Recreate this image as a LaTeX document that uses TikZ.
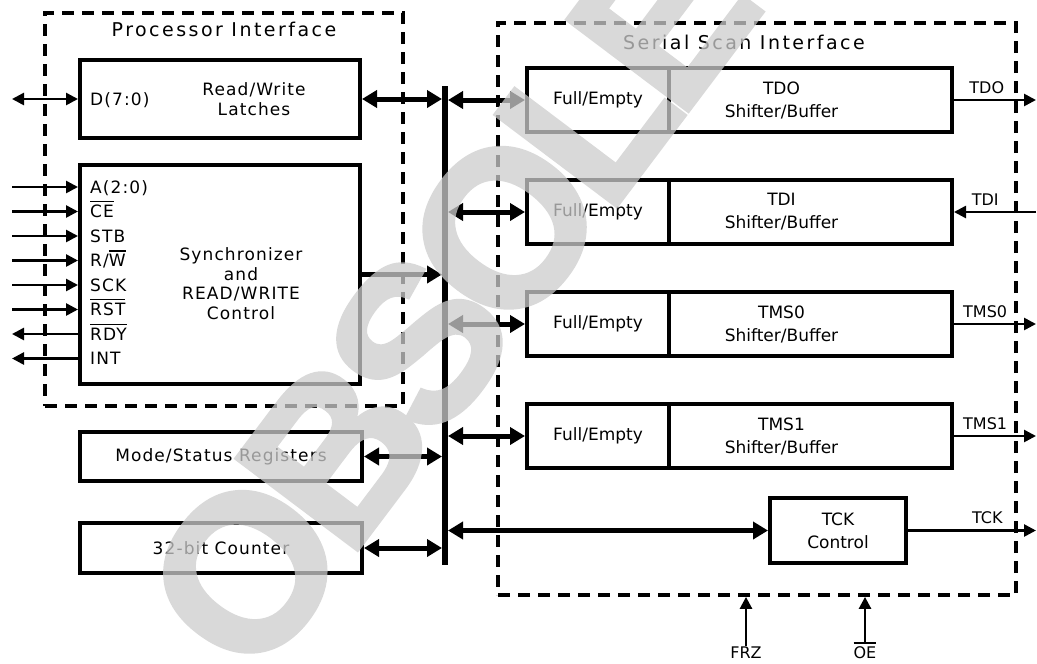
\documentclass[tikz,border=0pt]{standalone}
\usepackage{fontspec}
\setmainfont{DejaVu Sans}
\newfontfamily\wideface[LetterSpace=6.5]{DejaVu Sans}
\newfontfamily\headface[LetterSpace=13]{DejaVu Sans}
\newfontfamily\stampface[LetterSpace=-7, FakeBold=2]{Liberation Sans}
\usepackage{tikz}
\usetikzlibrary{arrows.meta, positioning, shapes}

\newcommand{\blockfont}{\wideface\fontsize{17}{19.5}\selectfont}
\newcommand{\headfont}{\headface\fontsize{19}{23}\selectfont}
\newcommand{\cellfont}{\fontsize{17}{23}\selectfont}
\newcommand{\pinfont}{\fontsize{16}{19}\selectfont}
\newcommand{\ovl}[1]{\vbox{\hrule height 1.6pt\kern 2.5pt\hbox{#1}}}

\begin{document}
\begin{tikzpicture}[x=1pt, y=-1pt,
  block/.style={draw, line width=4pt, inner sep=0pt, align=center},
  region/.style={draw, line width=3.8pt, dash pattern=on 12pt off 8pt, inner sep=0pt},
  head/.style={font=\headfont, inner sep=0pt},
  blocklbl/.style={font=\blockfont, align=center, inner sep=0pt},
  celllbl/.style={font=\cellfont, align=center, inner sep=0pt},
  pinlbl/.style={font=\blockfont, anchor=west, inner sep=0pt, text height=12pt, text depth=0pt},
  sigtxt/.style={font=\pinfont, inner sep=0pt},
  wire/.style={line width=2.6pt, >={Triangle[length=12pt,width=12pt]}},
  buslink/.style={line width=5pt, >={Triangle[length=15pt,width=17pt]}},
  stamp/.style={font=\stampface\bfseries\fontsize{220}{220}\selectfont, text=black!20, inner sep=0pt}]

  \useasboundingbox (0,0) rectangle (1037,664);
  \coordinate (lrim) at (12,0);
  \coordinate (rrim) at (1036,0);

  \node[region, minimum width=358pt, minimum height=393pt] (procif) at (224,209.5) {};
  \node[region, minimum width=518pt, minimum height=572pt] (scanif) at (757,309) {};
  \node[head, below=11pt of procif.north] (proctitle) {Processor Interface};
  \node[head, below=14pt of scanif.north, xshift=-13pt] (scantitle) {Serial Scan Interface};

  \node[block, minimum width=280pt, minimum height=78pt,
        label={[blocklbl, xshift=34pt]center:{Read/Write\\Latches}}] (latch) at (220,99) {};
  \node[pinlbl] (pd) at (90,99) {D(7:0)};
  \node[block, minimum width=280pt, minimum height=219pt,
        label={[blocklbl, xshift=21pt, yshift=-9pt]center:{Synchronizer\\and\\READ/WRITE\\Control}}] (sync) at (220,274.5) {};
  \node[pinlbl] (pa) at (90,187) {A(2:0)};
  \node[pinlbl] (pce) at (90,211.5) {\ovl{CE}};
  \node[pinlbl] (pstb) at (90,236) {STB};
  \node[pinlbl] (prw) at (90,260.5) {R/\ovl{W}};
  \node[pinlbl] (psck) at (90,285) {SCK};
  \node[pinlbl] (prst) at (90,309.5) {\ovl{RST}};
  \node[pinlbl] (prdy) at (90,334) {\ovl{RDY}};
  \node[pinlbl] (pint) at (90,358.5) {INT};
  \node[block, font=\blockfont, minimum width=282pt, minimum height=49pt] (mode) at (221,456.5) {Mode/Status Registers};
  \node[block, font=\blockfont, minimum width=282pt, minimum height=50pt] (cnt) at (221,548) {32-bit Counter};

  \node[fill, minimum width=6pt, minimum height=479pt, inner sep=0pt, outer sep=0pt] (bus) at (445,325.5) {};

  \node[block, font=\cellfont, minimum width=142pt, minimum height=64pt] (fe1) at (598,100) {Full/Empty};
  \node[block, minimum width=283pt, minimum height=64pt, right=-4pt of fe1,
        label={[celllbl, xshift=-29pt]center:{TDO\\Shifter/Buffer}}] (sh1) {};
  \node[block, font=\cellfont, minimum width=142pt, minimum height=64pt] (fe2) at (598,212) {Full/Empty};
  \node[block, minimum width=283pt, minimum height=64pt, right=-4pt of fe2,
        label={[celllbl, xshift=-29pt]center:{TDI\\Shifter/Buffer}}] (sh2) {};
  \node[block, font=\cellfont, minimum width=142pt, minimum height=64pt] (fe3) at (598,324) {Full/Empty};
  \node[block, minimum width=283pt, minimum height=64pt, right=-4pt of fe3,
        label={[celllbl, xshift=-29pt]center:{TMS0\\Shifter/Buffer}}] (sh3) {};
  \node[block, font=\cellfont, minimum width=142pt, minimum height=64pt] (fe4) at (598,436) {Full/Empty};
  \node[block, minimum width=283pt, minimum height=64pt, right=-4pt of fe4,
        label={[celllbl, xshift=-29pt]center:{TMS1\\Shifter/Buffer}}] (sh4) {};
  \node[block, font=\cellfont, minimum width=136pt, minimum height=65pt] (tck) at (838,530.5) {TCK\\Control};

  \node[sigtxt, anchor=base] (frz) at (746,658) {FRZ};
  \node[sigtxt, anchor=base] (oe) at (865,658) {\ovl{OE}};

  \path
    (lrim |- latch.west) edge[wire, <->] (latch.west)
    (lrim |- pa.west) edge[wire, ->] (sync.west |- pa.west)
    (lrim |- pce.west) edge[wire, ->] (sync.west |- pce.west)
    (lrim |- pstb.west) edge[wire, ->] (sync.west |- pstb.west)
    (lrim |- prw.west) edge[wire, ->] (sync.west |- prw.west)
    (lrim |- psck.west) edge[wire, ->] (sync.west |- psck.west)
    (lrim |- prst.west) edge[wire, ->] (sync.west |- prst.west)
    (sync.west |- prdy.west) edge[wire, ->] (lrim |- prdy.west)
    (sync.west |- pint.west) edge[wire, ->] (lrim |- pint.west)
    (latch.east) edge[buslink, <->] (latch.east -| bus.west)
    (sync.east) edge[buslink, ->] (sync.east -| bus.west)
    (mode.east) edge[buslink, <->] (mode.east -| bus.west)
    (cnt.east) edge[buslink, <->] (cnt.east -| bus.west)
    (fe1.west -| bus.east) edge[buslink, <->] (fe1.west)
    (fe2.west -| bus.east) edge[buslink, <->] (fe2.west)
    (fe3.west -| bus.east) edge[buslink, <->] (fe3.west)
    (fe4.west -| bus.east) edge[buslink, <->] (fe4.west)
    (tck.west -| bus.east) edge[buslink, <->] (tck.west)
    (sh1.east) edge[wire, ->] node[sigtxt, above=5pt, pos=0.4] {TDO} (sh1.east -| rrim)
    (sh2.east -| rrim) edge[wire, ->] node[sigtxt, above=5pt, pos=0.62] {TDI} (sh2.east)
    (sh3.east) edge[wire, ->] node[sigtxt, above=5pt, pos=0.38] {TMS0} (sh3.east -| rrim)
    (sh4.east) edge[wire, ->] node[sigtxt, above=5pt, pos=0.38] {TMS1} (sh4.east -| rrim)
    (tck.east) edge[wire, ->] node[sigtxt, above=5pt, pos=0.62] {TCK} (tck.east -| rrim)
    (frz.north) edge[wire, ->] (frz.north |- scanif.south)
    (oe.north) edge[wire, ->] (oe.north |- scanif.south);

  \begin{scope}[transparency group, opacity=0.75]
    \node[stamp, rotate=53] (obsolete) at (526,200) {OBSOLETE};
  \end{scope}
\end{tikzpicture}
\end{document}
